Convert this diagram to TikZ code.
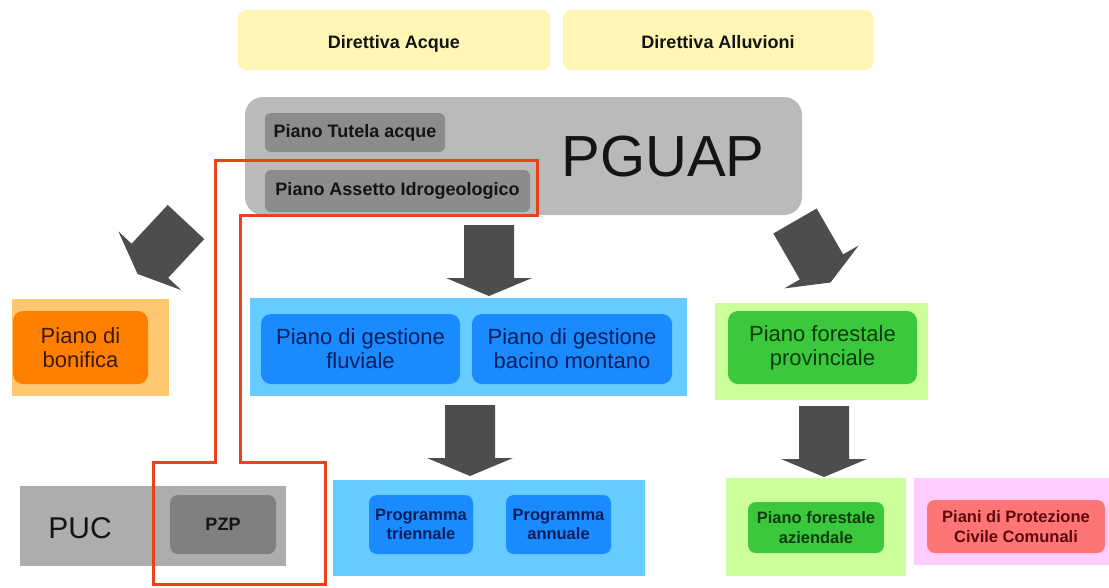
\documentclass[tikz,border=0pt]{standalone}
\usepackage{fontspec}
\setmainfont{Liberation Sans}
\definecolor{yel}{HTML}{FFF6B5}
\definecolor{pgray}{HTML}{BABABA}
\definecolor{dgray}{HTML}{8C8C8C}
\definecolor{pucgray}{HTML}{ADADAD}
\definecolor{pzpgray}{HTML}{808080}
\definecolor{lorange}{HTML}{FFC870}
\definecolor{orng}{HTML}{FF8000}
\definecolor{lblue}{HTML}{66CCFF}
\definecolor{blu}{HTML}{1A8AFF}
\definecolor{lgreen}{HTML}{CCFF99}
\definecolor{grn}{HTML}{3CC83C}
\definecolor{pnk}{HTML}{FFCCFF}
\definecolor{salm}{HTML}{FF7575}
\definecolor{arrowc}{HTML}{4D4D4D}
\definecolor{redl}{HTML}{E8431A}
\definecolor{tblue}{HTML}{0A1E5C}
\definecolor{tbrown}{HTML}{3D1A00}
\definecolor{tgreen}{HTML}{0B3B0B}
\definecolor{tred}{HTML}{5C0A0A}
\definecolor{tdark}{HTML}{141414}
\newcommand\blockarr[3]{\fill[arrowc, shift={(#1,#2)}, rotate=#3] (0,-25) -- (53,-25) -- (53,-43) -- (71,0) -- (53,43) -- (53,25) -- (0,25) -- cycle;}
\tikzset{
  bx/.style={inner sep=0pt, align=center, anchor=center},
  sq/.style={bx},
  rnd/.style={bx, rounded corners=#1},
  rnd/.default=10pt,
  bigbold/.style={font=\bfseries\fontsize{18}{20}\selectfont, text=tdark},
  smallbold/.style={font=\bfseries\fontsize{16.5}{19.5}\selectfont},
  reg/.style={font=\fontsize{22}{24}\selectfont},
  lowtext/.style={text height=17pt, text depth=0pt},
}
\begin{document}
\begin{tikzpicture}[x=1pt,y=-1pt]
\useasboundingbox[fill=white] (0,0) rectangle (1109,587);
% top directives
\node[rnd=8pt, fill=yel, minimum width=312, minimum height=60, bigbold, lowtext] (acque) at (394,40) {Direttiva Acque};
\node[rnd=8pt, fill=yel, minimum width=310, minimum height=60, bigbold, lowtext] (alluv) at (718,40) {Direttiva Alluvioni};
% PGUAP
\node[rnd=18pt, fill=pgray, minimum width=557, minimum height=118] (pguap) at (523.5,156) {};
\node[bx, font=\fontsize{58}{60}\selectfont, text=tdark] (pguapt) at (663,157) {PGUAP};
\node[rnd=6pt, fill=dgray, minimum width=180, minimum height=39, bigbold] (pta) at (355,132.5) {Piano Tutela acque};
\node[rnd=6pt, fill=dgray, minimum width=265, minimum height=42, bigbold] (pai) at (397.5,191) {Piano Assetto Idrogeologico};
% bonifica
\node[sq, fill=lorange, minimum width=157, minimum height=97] (bono) at (90.5,347.5) {};
\node[rnd=10pt, fill=orng, minimum width=135, minimum height=73, reg, text=tbrown] (bon) at (80.5,347.5) {Piano di\\bonifica};
% PUC
\node[sq, fill=pucgray, minimum width=266, minimum height=80] (puco) at (153,526) {};
\node[bx, font=\fontsize{30}{32}\selectfont, text=tdark] (puc) at (80,528) {PUC};
\node[rnd=8pt, fill=pzpgray, minimum width=106, minimum height=59, bigbold] (pzp) at (223,524.5) {PZP};
% blue top
\node[sq, fill=lblue, minimum width=437, minimum height=98] (blo) at (468.5,347) {};
\node[rnd=10pt, fill=blu, minimum width=199, minimum height=70, reg, text=tblue] (pgf) at (360.5,349) {Piano di gestione\\fluviale};
\node[rnd=10pt, fill=blu, minimum width=200, minimum height=70, reg, text=tblue] (pgb) at (572,349) {Piano di gestione\\bacino montano};
% blue bottom
\node[sq, fill=lblue, minimum width=312, minimum height=96] (blo2) at (489,528) {};
\node[rnd=8pt, fill=blu, minimum width=104, minimum height=59, smallbold, text=tblue] (ptr) at (421,524.5) {Programma\\triennale};
\node[rnd=8pt, fill=blu, minimum width=105, minimum height=59, smallbold, text=tblue] (pan) at (558.5,524.5) {Programma\\annuale};
% green top
\node[sq, fill=lgreen, minimum width=213, minimum height=97] (gro) at (821.5,351.5) {};
\node[rnd=10pt, fill=grn, minimum width=189, minimum height=73, reg, text=tgreen] (pfp) at (822.5,347.5) {Piano forestale\\provinciale};
% green bottom
\node[sq, fill=lgreen, minimum width=180, minimum height=98] (gro2) at (816,527) {};
\node[rnd=8pt, fill=grn, minimum width=136, minimum height=51, smallbold, text=tgreen] (pfa) at (816,527.5) {Piano forestale\\aziendale};
% pink
\node[sq, fill=pnk, minimum width=195, minimum height=87] (pko) at (1011.5,521.5) {};
\node[rnd=8pt, fill=salm, minimum width=178, minimum height=53, smallbold, text=tred] (ppc) at (1016,526.5) {Piani di Protezione\\Civile Comunali};
% block arrows
\blockarr{186}{222}{-133}
\blockarr{489}{225}{-90}
\blockarr{795}{221}{-60}
\blockarr{470}{405}{-90}
\blockarr{824}{406}{-90}
% red outline
\draw[redl, line width=3pt, line join=miter] (215,160) -- (537,160) -- (537,215) -- (240,215) -- (240,462) -- (325,462) -- (325,584) -- (153,584) -- (153,462) -- (215,462) -- cycle;
\end{tikzpicture}
\end{document}
